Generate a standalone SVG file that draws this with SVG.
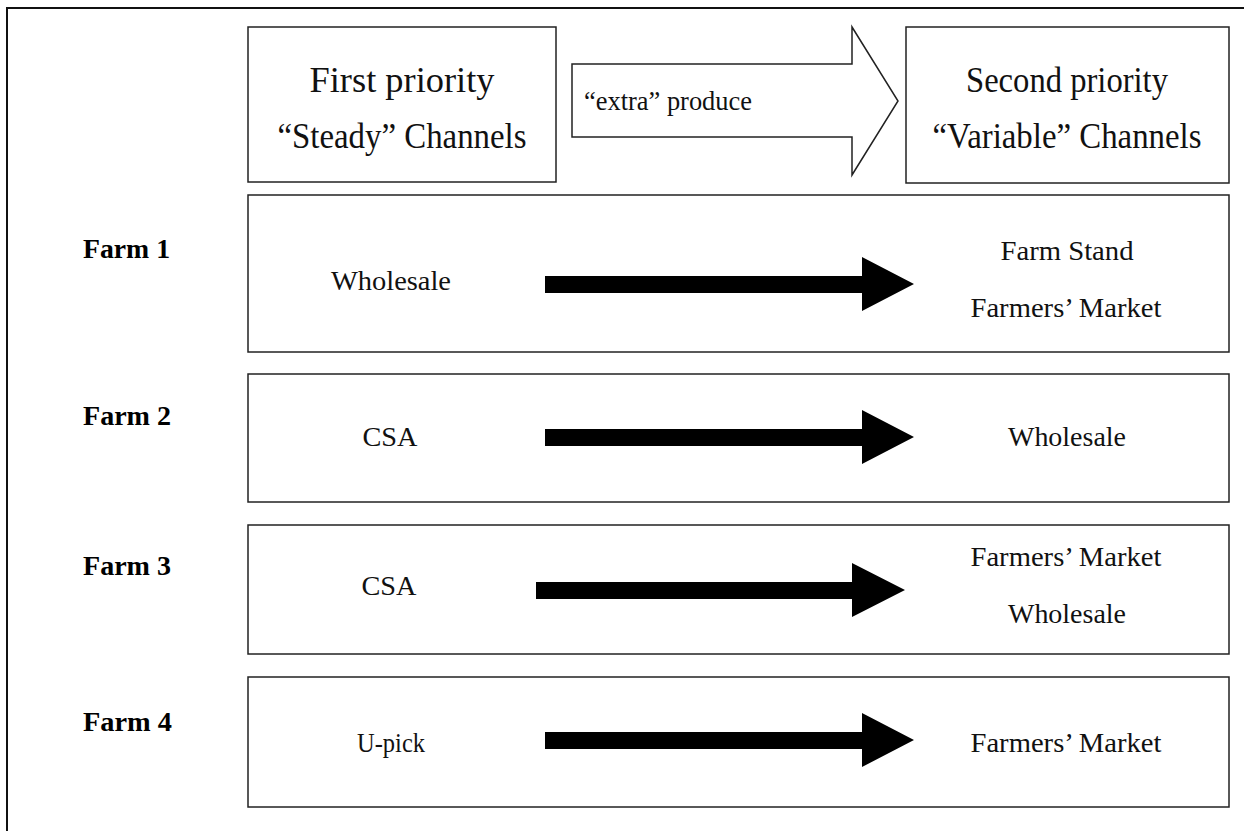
<svg xmlns="http://www.w3.org/2000/svg" width="1244" height="831" viewBox="0 0 1244 831">
<style>
.box{fill:#fff;stroke:#222;stroke-width:1.5}
.t{font-family:"Liberation Serif",serif;fill:#111;text-anchor:middle}
.big{font-size:35px}
.mid{font-size:28px}
.farm{font-family:"Liberation Serif",serif;font-weight:bold;font-size:27px;fill:#000}
.arr{fill:#000}
</style>
<rect width="1244" height="831" fill="#fff"/>
<g id="frame"><path d="M7,831 V8 H1244" fill="none" stroke="#111" stroke-width="2"/></g>
<g id="first"><rect class="box" x="248" y="27" width="308" height="155"/>
<text class="t big" x="402" y="92" textLength="185" lengthAdjust="spacingAndGlyphs">First priority</text>
<text class="t big" x="402" y="148" textLength="249" lengthAdjust="spacingAndGlyphs">“Steady” Channels</text></g>
<g id="second"><rect class="box" x="906" y="27" width="323" height="156"/>
<text class="t big" x="1067" y="92" textLength="202" lengthAdjust="spacingAndGlyphs">Second priority</text>
<text class="t big" x="1067" y="148" textLength="269" lengthAdjust="spacingAndGlyphs">“Variable” Channels</text></g>
<g id="farm1"><text class="farm" x="83" y="258" textLength="87" lengthAdjust="spacingAndGlyphs">Farm 1</text>
<rect class="box" x="248" y="195" width="981" height="157"/>
<text class="t mid" x="391" y="290" textLength="120" lengthAdjust="spacingAndGlyphs">Wholesale</text>
<text class="t mid" x="1067" y="260" textLength="133" lengthAdjust="spacingAndGlyphs">Farm Stand</text>
<text class="t mid" x="1066" y="317" textLength="191" lengthAdjust="spacingAndGlyphs">Farmers’ Market</text></g>
<g id="farm2"><text class="farm" x="83" y="425" textLength="88" lengthAdjust="spacingAndGlyphs">Farm 2</text>
<rect class="box" x="248" y="374" width="981" height="128"/>
<text class="t mid" x="390" y="446" textLength="55" lengthAdjust="spacingAndGlyphs">CSA</text>
<text class="t mid" x="1067" y="446" textLength="118" lengthAdjust="spacingAndGlyphs">Wholesale</text></g>
<g id="farm3"><text class="farm" x="83" y="575" textLength="88" lengthAdjust="spacingAndGlyphs">Farm 3</text>
<rect class="box" x="248" y="525" width="981" height="129"/>
<text class="t mid" x="389" y="595" textLength="55" lengthAdjust="spacingAndGlyphs">CSA</text>
<text class="t mid" x="1066" y="566" textLength="191" lengthAdjust="spacingAndGlyphs">Farmers’ Market</text>
<text class="t mid" x="1067" y="623" textLength="118" lengthAdjust="spacingAndGlyphs">Wholesale</text></g>
<g id="farm4"><text class="farm" x="83" y="731" textLength="89" lengthAdjust="spacingAndGlyphs">Farm 4</text>
<rect class="box" x="248" y="677" width="981" height="130"/>
<text class="t mid" x="391" y="752" textLength="68" lengthAdjust="spacingAndGlyphs">U-pick</text>
<text class="t mid" x="1066" y="752" textLength="191" lengthAdjust="spacingAndGlyphs">Farmers’ Market</text></g>
<g id="connectors">
<path id="extra" class="box" d="M572,64 H852 V27 L898,101 L852,175 V137 H572 Z"/>
<text class="t" x="584" y="110" style="font-size:27px;text-anchor:start" textLength="168" lengthAdjust="spacingAndGlyphs">“extra” produce</text>
<path class="arr" d="M545,276 H862 V257 L914,284 L862,311 V293 H545 Z"/>
<path class="arr" d="M545,429 H862 V410 L914,437 L862,464 V446 H545 Z"/>
<path class="arr" d="M536,582 H852 V563 L905,590 L852,617 V599 H536 Z"/>
<path class="arr" d="M545,732 H862 V713 L914,740 L862,767 V749 H545 Z"/>
</g>
</svg>
